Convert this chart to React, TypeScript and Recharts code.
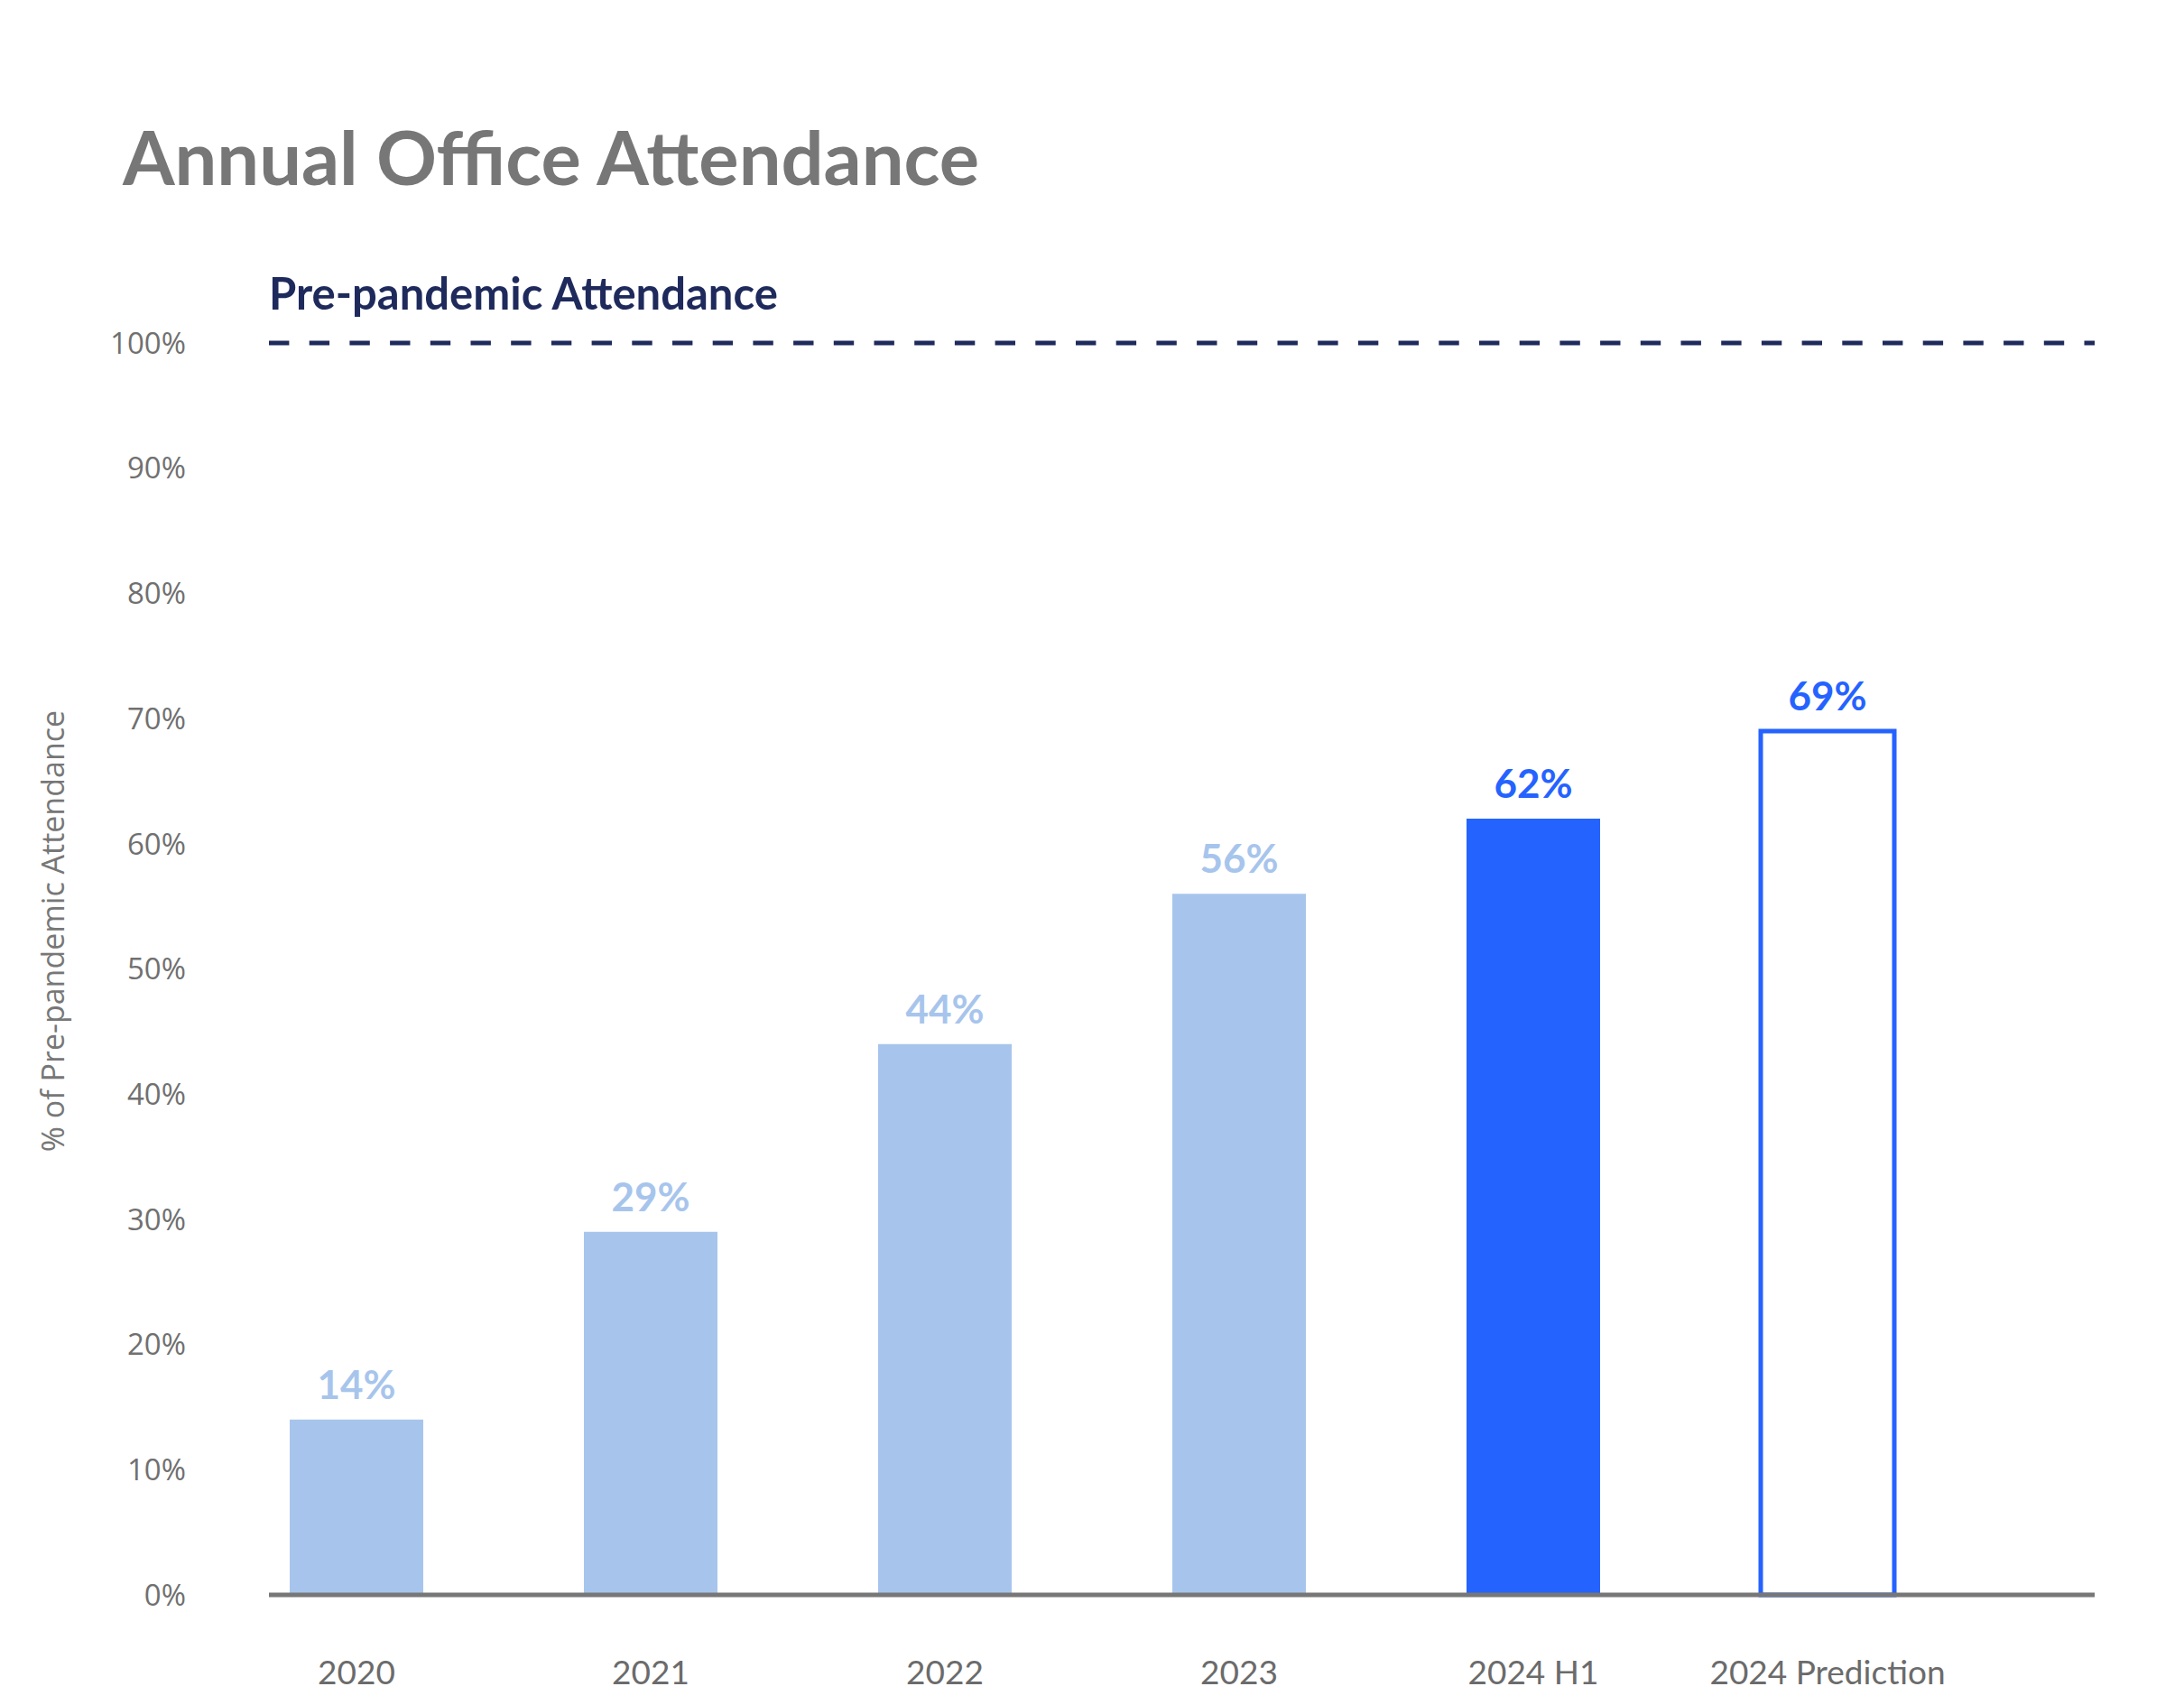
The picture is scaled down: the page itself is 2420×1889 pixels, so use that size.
import { Bar, BarChart, Cell, Label, LabelList, ReferenceLine, XAxis, YAxis } from "recharts";

// Office attendance as a share of pre-pandemic levels
const categories = ["2020", "2021", "2022", "2023", "2024 H1", "2024 Prediction"];
const attendance = [14, 29, 44, 56, 62, 69];
const yTicks = [0, 10, 20, 30, 40, 50, 60, 70, 80, 90, 100];
const prePandemicLevel = 100;

const data = categories.map((label, i) => ({ label, value: attendance[i] }));

const LIGHT = "#A7C5EC";
const BLUE = "#2563FF";
const NAVY = "#1F2A5C";
const GREY = "#777777";
const FONT = "Lato, 'Open Sans', sans-serif";
const AXIS_FONT = "'Open Sans', Lato, sans-serif";

// past years are pale, the current half-year solid, the forecast outlined
function barStyle(i: number) {
  if (i === categories.length - 1) return { fill: "#FFFFFF", stroke: BLUE, strokeWidth: 5 };
  if (i === categories.length - 2) return { fill: BLUE, stroke: "none", strokeWidth: 0 };
  return { fill: LIGHT, stroke: "none", strokeWidth: 0 };
}

function ValueLabel(props: any) {
  const { x, y, width, value, index } = props;
  const color = index >= categories.length - 2 ? BLUE : LIGHT;
  return (
    <text
      x={x + width / 2}
      y={y - 23}
      textAnchor="middle"
      fill={color}
      fontSize={44}
      fontWeight={700}
      fontFamily={FONT}
    >
      {`${value}%`}
    </text>
  );
}

function ReferenceTitle(props: any) {
  const { viewBox } = props;
  return (
    <text x={viewBox.x} y={viewBox.y - 37} fill={NAVY} fontSize={49} fontWeight={700} fontFamily={FONT}>
      Pre-pandemic Attendance
    </text>
  );
}

function AxisTitle(props: any) {
  const { viewBox } = props;
  const cx = viewBox.x + 38;
  const cy = viewBox.y + viewBox.height / 2 - 42;
  return (
    <text
      x={cx}
      y={cy}
      transform={`rotate(-90, ${cx}, ${cy})`}
      textAnchor="middle"
      dominantBaseline="central"
      fill={GREY}
      fontSize={34}
      fontFamily={AXIS_FONT}
    >
      % of Pre-pandemic Attendance
    </text>
  );
}

export default function App() {
  return (
    <div style={{ position: "absolute", left: 0, top: 0, width: 2420, height: 1889, background: "#fff" }}>
      <svg width={2420} height={260} style={{ position: "absolute", left: 0, top: 0 }}>
        <text x={136} y={205} fill={GREY} fontSize={83} fontWeight={700} fontFamily={FONT}>
          Annual Office Attendance
        </text>
      </svg>
      <BarChart
        width={2420}
        height={1889}
        data={data}
        margin={{ top: 380, right: 99, bottom: 22, left: 20 }}
        style={{ position: "absolute", left: 0, top: 0 }}
      >
        <XAxis
          dataKey="label"
          interval={0}
          height={100}
          padding={{ left: -66, right: 133 }}
          tickLine={false}
          tickSize={0}
          tickMargin={73}
          axisLine={{ stroke: GREY, strokeWidth: 5 }}
          tick={{ fill: "#6B6B6B", fontSize: 37, fontFamily: FONT }}
        />
        <YAxis
          domain={[0, 100]}
          ticks={yTicks}
          width={278}
          axisLine={false}
          tickLine={false}
          tickSize={0}
          tickMargin={92}
          tickFormatter={(v: number) => `${v}%`}
          tick={{ fill: "#707070", fontSize: 33, fontFamily: AXIS_FONT }}
        >
          <Label content={<AxisTitle />} />
        </YAxis>
        <ReferenceLine
          y={prePandemicLevel}
          stroke={NAVY}
          strokeWidth={5}
          strokeDasharray="22.4 22.3"
          label={<ReferenceTitle />}
        />
        <Bar dataKey="value" barSize={148} isAnimationActive={false}>
          {data.map((d, i) => (
            <Cell key={d.label} {...barStyle(i)} />
          ))}
          <LabelList dataKey="value" content={<ValueLabel />} />
        </Bar>
      </BarChart>
    </div>
  );
}
